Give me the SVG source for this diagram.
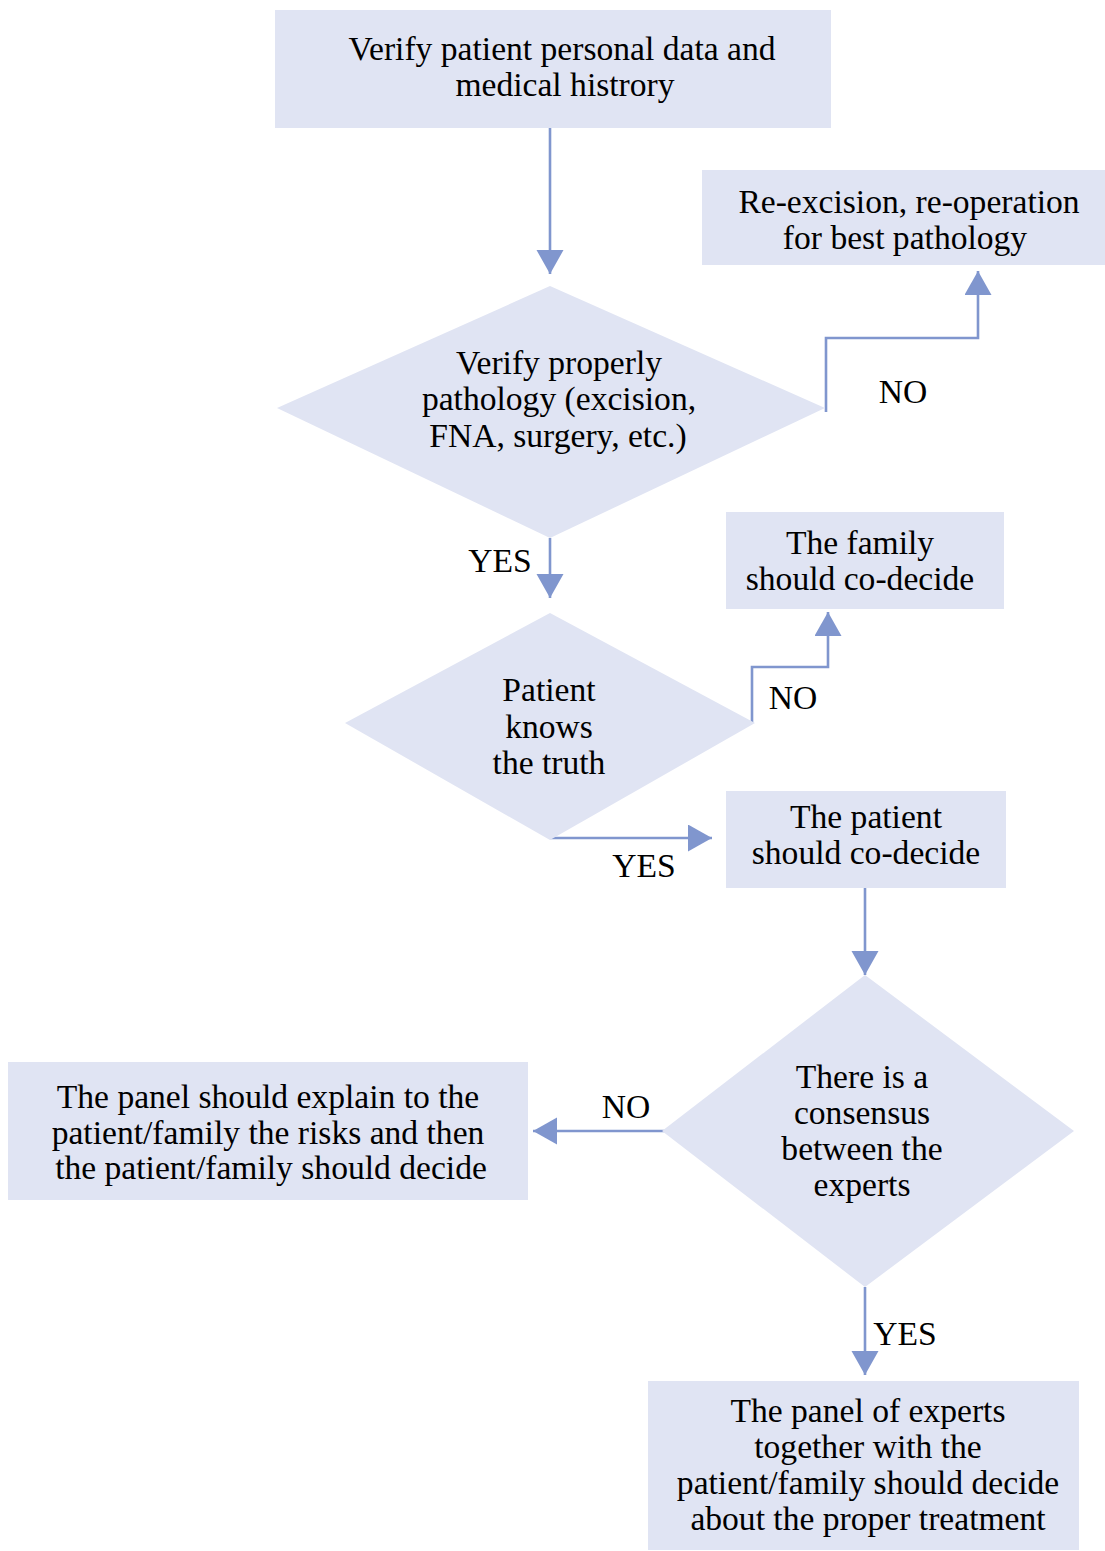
<svg xmlns="http://www.w3.org/2000/svg" width="1105" height="1551" viewBox="0 0 1105 1551">
<style>
.shape{fill:#e0e4f3;stroke:none}
.t{font-family:"Liberation Serif","Times New Roman",serif;font-size:33.6px;fill:#000;text-anchor:middle}
.c{fill:none;stroke:#8096ce;stroke-width:2.6}
</style>
<defs>
<marker id="ah" markerUnits="userSpaceOnUse" markerWidth="26" markerHeight="28" refX="24" refY="13.5" orient="auto">
<path d="M0,0 L24,13.5 L0,27 z" fill="#8096ce"/>
</marker>
</defs>
<rect width="1105" height="1551" fill="#ffffff"/>
<g id="connectors">
<path class="c" d="M550,128 V274" marker-end="url(#ah)"/>
<path class="c" d="M826,412 V338 H978 V271" marker-end="url(#ah)"/>
<path class="c" d="M550,538 V598" marker-end="url(#ah)"/>
<path class="c" d="M752,723 V667 H828 V612" marker-end="url(#ah)"/>
<path class="c" d="M550,838 H712" marker-end="url(#ah)"/>
<path class="c" d="M865,888 V975" marker-end="url(#ah)"/>
<path class="c" d="M668,1131 H533" marker-end="url(#ah)"/>
<path class="c" d="M865,1287 V1375" marker-end="url(#ah)"/>
<text class="t" x="903" y="403">NO</text>
<text class="t" x="500" y="572">YES</text>
<text class="t" x="793" y="709">NO</text>
<text class="t" x="644" y="877">YES</text>
<text class="t" x="626" y="1118">NO</text>
<text class="t" x="905" y="1345">YES</text>
</g>
<g id="verify-data">
<rect class="shape" x="275" y="10" width="556" height="118"/>
<text class="t" x="562" y="60">Verify patient personal data and</text>
<text class="t" x="565" y="96">medical histrory</text>
</g>
<g id="verify-pathology">
<polygon class="shape" points="550,286 825,408 550,538 277,408"/>
<text class="t" x="559" y="374">Verify properly</text>
<text class="t" x="559" y="410">pathology (excision,</text>
<text class="t" x="558" y="447">FNA, surgery, etc.)</text>
</g>
<g id="re-excision">
<rect class="shape" x="702" y="170" width="403" height="95"/>
<text class="t" x="909" y="213">Re-excision, re-operation</text>
<text class="t" x="905" y="249">for best pathology</text>
</g>
<g id="patient-knows">
<polygon class="shape" points="550,613 755,723 550,840 345,723"/>
<text class="t" x="549" y="701">Patient</text>
<text class="t" x="549" y="738">knows</text>
<text class="t" x="549" y="774">the truth</text>
</g>
<g id="family-codecide">
<rect class="shape" x="726" y="512" width="278" height="97"/>
<text class="t" x="860" y="554">The family</text>
<text class="t" x="860" y="590">should co-decide</text>
</g>
<g id="patient-codecide">
<rect class="shape" x="726" y="791" width="280" height="97"/>
<text class="t" x="866" y="828">The patient</text>
<text class="t" x="866" y="864">should co-decide</text>
</g>
<g id="consensus">
<polygon class="shape" points="865,975 1074,1131 865,1287 662,1131"/>
<text class="t" x="862" y="1088">There is a</text>
<text class="t" x="862" y="1124">consensus</text>
<text class="t" x="862" y="1160">between the</text>
<text class="t" x="862" y="1196">experts</text>
</g>
<g id="panel-explain">
<rect class="shape" x="8" y="1062" width="520" height="138"/>
<text class="t" x="268" y="1108">The panel should explain to the</text>
<text class="t" x="268" y="1144">patient/family the risks and then</text>
<text class="t" x="271" y="1179">the patient/family should decide</text>
</g>
<g id="panel-together">
<rect class="shape" x="648" y="1381" width="431" height="169"/>
<text class="t" x="868" y="1422">The panel of experts</text>
<text class="t" x="868" y="1458">together with the</text>
<text class="t" x="868" y="1494">patient/family should decide</text>
<text class="t" x="868" y="1530">about the proper treatment</text>
</g>
</svg>
